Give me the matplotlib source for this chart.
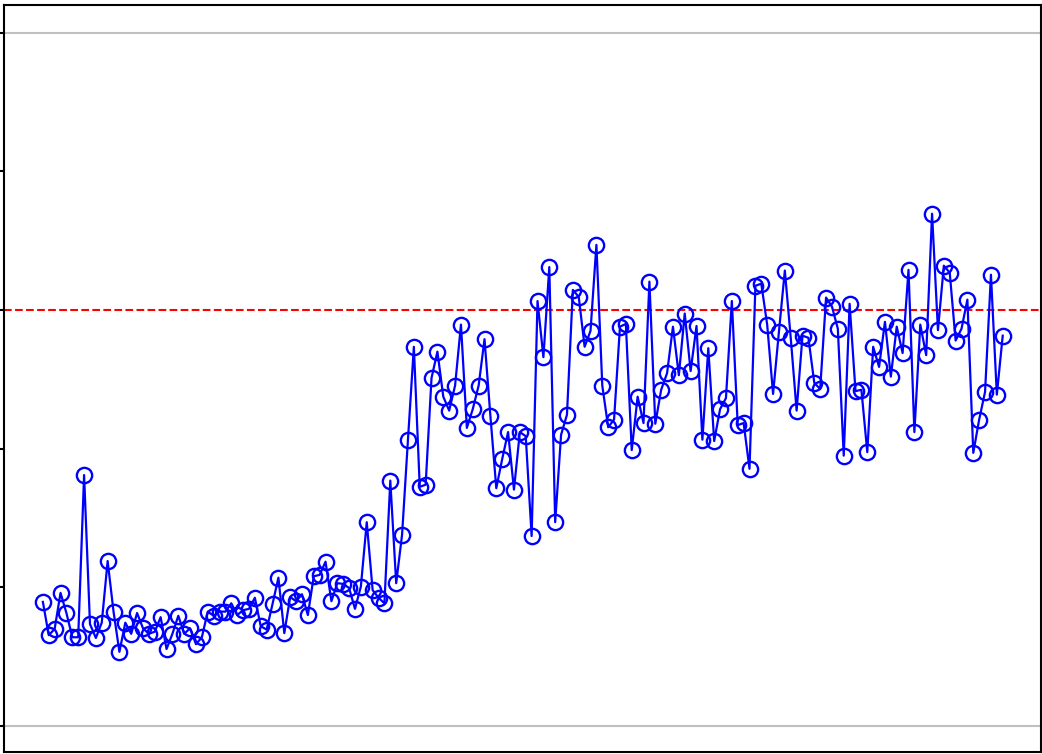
import numpy as np
import matplotlib
matplotlib.use("Agg")
import matplotlib.pyplot as plt

# values, one per sample
values = [
    0.179, 0.131, 0.140, 0.192, 0.163, 0.128, 0.128, 0.362, 0.147, 0.127,
    0.149, 0.238, 0.165, 0.107, 0.149, 0.133, 0.163, 0.141, 0.133, 0.136,
    0.157, 0.111, 0.133, 0.159, 0.133, 0.141, 0.118, 0.128, 0.165, 0.159,
    0.165, 0.165, 0.177, 0.160, 0.167, 0.169, 0.185, 0.144, 0.139, 0.176,
    0.214, 0.134, 0.186, 0.180, 0.190, 0.160, 0.216, 0.218, 0.237, 0.180,
    0.206, 0.205, 0.199, 0.169, 0.201, 0.294, 0.196, 0.185, 0.177, 0.354,
    0.206, 0.276, 0.413, 0.547, 0.345, 0.348, 0.502, 0.540, 0.475, 0.455,
    0.491, 0.579, 0.430, 0.457, 0.491, 0.558, 0.447, 0.343, 0.385, 0.424,
    0.341, 0.424, 0.418, 0.274, 0.613, 0.532, 0.662, 0.294, 0.420, 0.449,
    0.629, 0.619, 0.547, 0.570, 0.694, 0.491, 0.431, 0.442, 0.576, 0.580,
    0.398, 0.475, 0.437, 0.641, 0.436, 0.485, 0.509, 0.576, 0.506, 0.595,
    0.512, 0.577, 0.413, 0.545, 0.411, 0.457, 0.473, 0.613, 0.434, 0.437,
    0.371, 0.635, 0.638, 0.579, 0.479, 0.569, 0.657, 0.560, 0.455, 0.563,
    0.560, 0.495, 0.486, 0.618, 0.605, 0.573, 0.390, 0.609, 0.483, 0.485,
    0.395, 0.547, 0.518, 0.583, 0.504, 0.576, 0.538, 0.658, 0.424, 0.579,
    0.535, 0.739, 0.571, 0.664, 0.654, 0.556, 0.573, 0.615, 0.394, 0.442,
    0.482, 0.651, 0.478, 0.563,
]
threshold = 0.6
bounds = [0.0, 1.0]
yticks = [0.0, 0.2, 0.4, 0.6, 0.8, 1.0]

x = np.arange(1, len(values) + 1)

fig = plt.figure(figsize=(10.42, 7.54), dpi=100)
ax = fig.add_axes([4 / 1042, 2 / 754, 1037 / 1042, 747 / 754])

for b in bounds:
    ax.axhline(b, color="#c0c0c0", linewidth=1.5, zorder=1)
ax.axhline(threshold, color="red", linestyle="--", linewidth=1.5, zorder=2)

ax.plot(x, values, color="blue", linewidth=1.6, marker="o", markersize=11,
        markerfacecolor="none", markeredgecolor="blue", markeredgewidth=1.7,
        zorder=3)

ax.set_xlim(-5.6, 170.5)
ax.set_ylim(-0.0375, 1.04)
ax.set_yticks(yticks)
ax.set_xticks([])
ax.tick_params(axis="y", direction="out", length=5, width=1.5, labelleft=False)
for s in ax.spines.values():
    s.set_linewidth(1.5)

fig.savefig("out.png", dpi=100)
